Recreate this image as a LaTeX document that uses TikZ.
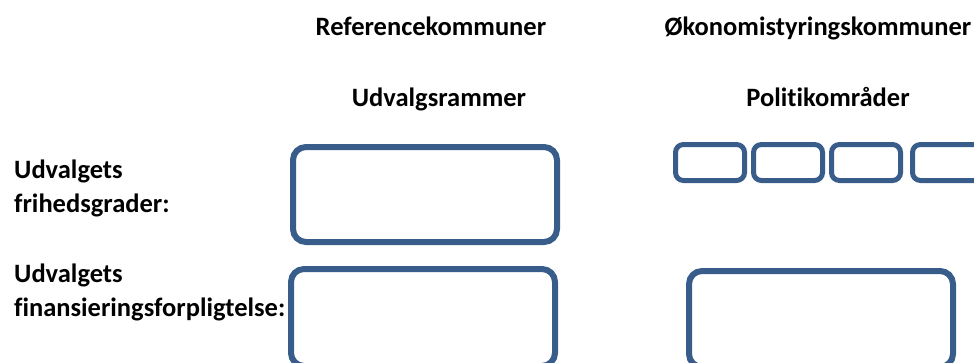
\documentclass[tikz,border=0pt]{standalone}
\usepackage{fontspec}
\setmainfont[Ligatures={NoCommon}]{Carlito}
\definecolor{boxblue}{HTML}{385D8A}
\begin{document}
\begin{tikzpicture}[x=1pt,y=-1pt,
  lbl/.style={font=\fontsize{26.5}{30}\selectfont\bfseries, inner sep=0pt},
  bigbox/.style={draw=boxblue, line width=6pt, rounded corners=13pt},
  smallbox/.style={draw=boxblue, line width=5pt, rounded corners=8pt}]
\useasboundingbox (0,0) rectangle (974,362);
\clip (0,0) rectangle (974,362);
\node[lbl, anchor=base] (h1) at (431,35) {Referencekommuner};
\node[lbl, anchor=base] (h2) at (818,35) {Økonomistyringskommuner};
\node[lbl, anchor=base] (s1) at (439,106) {Udvalgsrammer};
\node[lbl, anchor=base] (s2) at (828,106) {Politikområder};
\node[lbl, anchor=base west] (l1a) at (14,178) {Udvalgets};
\node[lbl, anchor=base west] (l1b) at (14,212) {frihedsgrader:};
\node[lbl, anchor=base west] (l2a) at (14,282) {Udvalgets};
\node[lbl, anchor=base west] (l2b) at (14,316) {finansieringsforpligtelse:};
\draw[bigbox] (293,147) rectangle (557,242);
\draw[bigbox] (291,269) rectangle (555,366);
\draw[bigbox] (689,271) rectangle (953,367);
\draw[smallbox] (675.5,144.5) rectangle (744.5,180.5);
\draw[smallbox] (753.5,144.5) rectangle (822.5,180.5);
\draw[smallbox] (831.5,144.5) rectangle (900.5,180.5);
\draw[smallbox] (912.5,144.5) rectangle (990,180.5);
\end{tikzpicture}
\end{document}
